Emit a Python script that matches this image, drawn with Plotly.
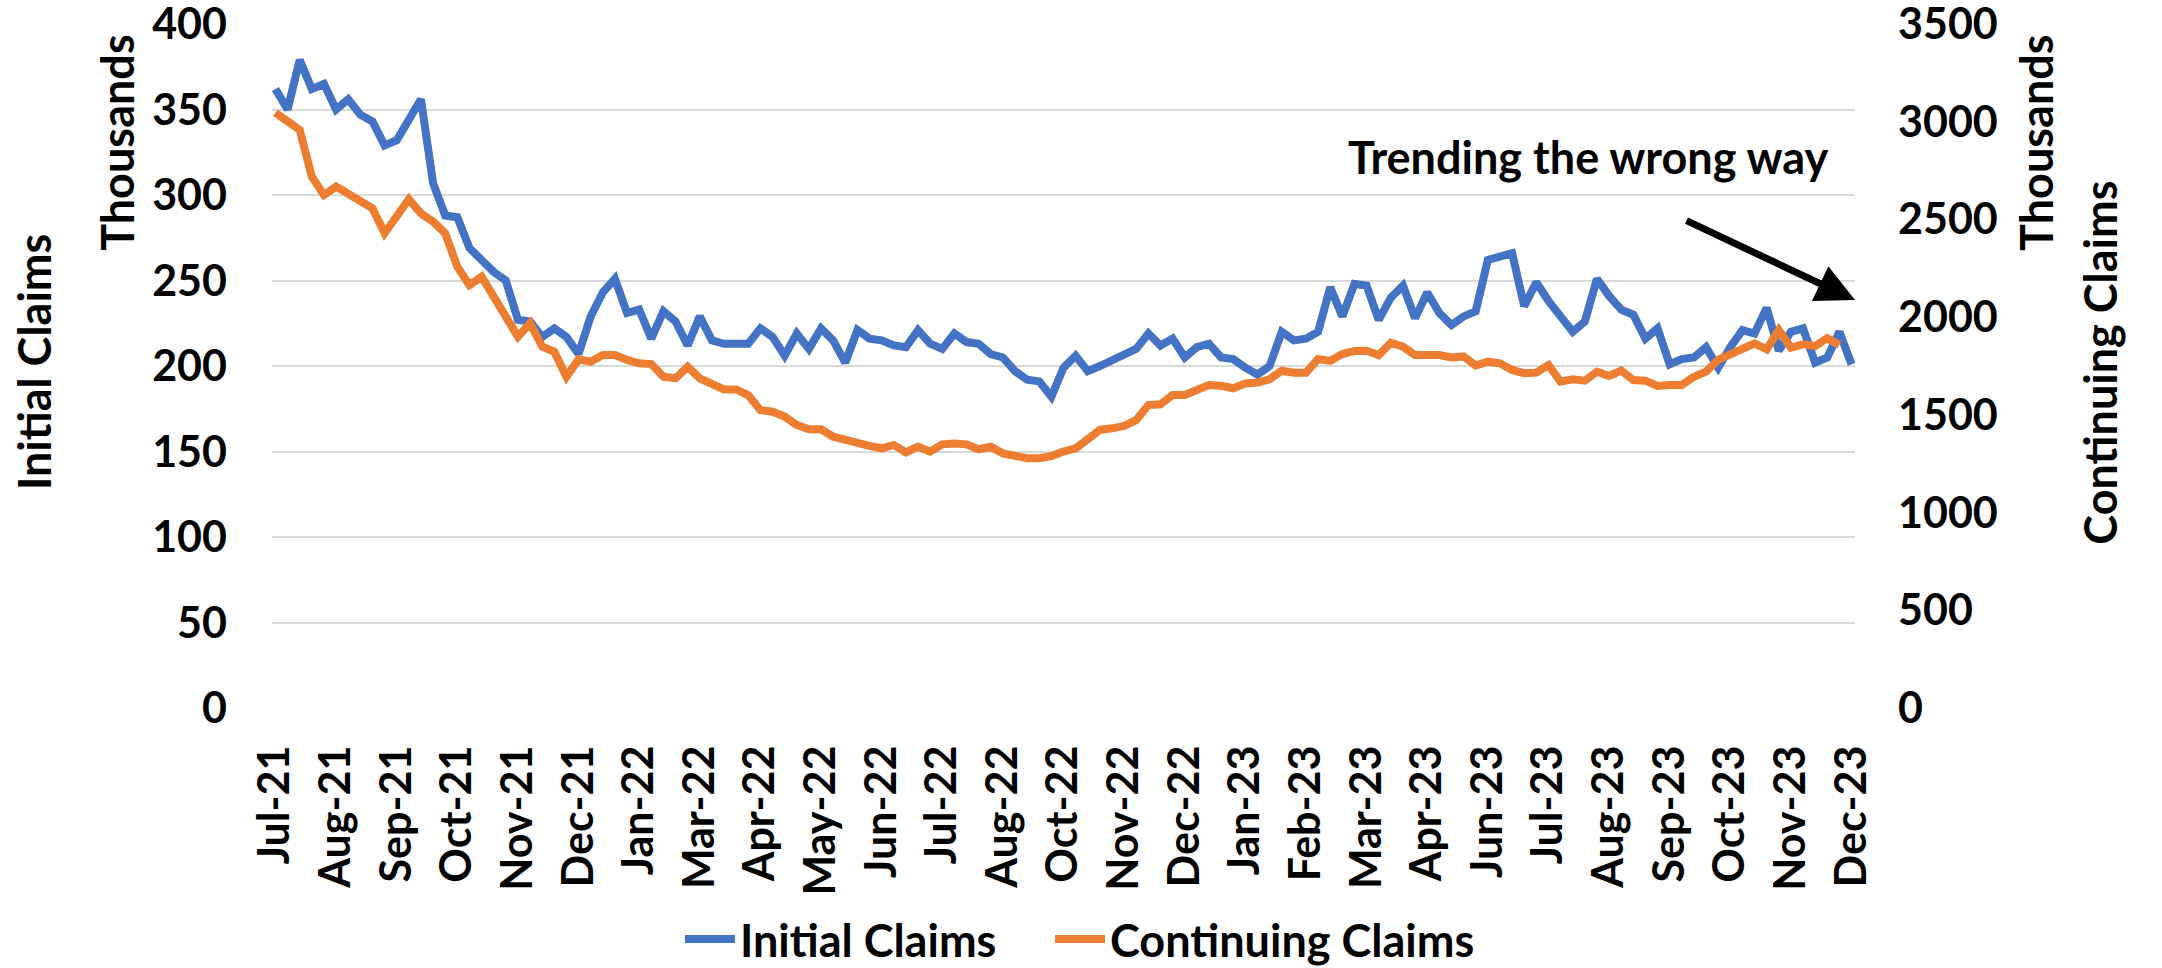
import pandas as pd
import plotly.graph_objects as go

# Weekly data, Jul 3 2021 .. Dec 30 2023 (thousands)
weeks = pd.date_range("2021-07-03", periods=131, freq="7D")

initial_claims = [
    362, 350, 379, 362, 365, 350, 356, 347, 343, 329,
    332, 344, 356, 307, 288, 287, 269, 262, 255, 250,
    227, 226, 217, 222, 217, 207, 229, 243, 251, 231,
    233, 216, 232, 226, 212, 229, 215, 213, 213, 213,
    222, 217, 206, 219, 210, 222, 215, 202, 221, 216,
    215, 212, 211, 221, 213, 210, 219, 214, 213, 207,
    205, 197, 192, 191, 182, 199, 206, 197, 200, 203,
    206, 210, 219, 212, 216, 205, 211, 213, 205, 204,
    199, 195, 200, 220, 215, 216, 220, 246, 229, 248,
    247, 227, 240, 247, 228, 243, 231, 224, 229, 232,
    262, 264, 266, 235, 249, 238, 229, 220, 226, 251,
    241, 233, 230, 216, 222, 201, 204, 205, 211, 199,
    211, 221, 219, 234, 209, 220, 222, 202, 205, 220,
    201,
]

continuing_claims = [
    3046, 3000, 2958, 2719, 2625, 2668, 2634, 2591, 2557, 2429,
    2514, 2603, 2531, 2489, 2429, 2258, 2164, 2207, 2105, 2011,
    1900, 1969, 1849, 1823, 1695, 1784, 1772, 1806, 1806, 1781,
    1764, 1760, 1695, 1687, 1746, 1687, 1661, 1630, 1630, 1600,
    1525, 1516, 1491, 1448, 1426, 1426, 1388, 1371, 1349, 1341,
    1329, 1346, 1308, 1337, 1312, 1349, 1354, 1349, 1324, 1337,
    1303, 1291, 1278, 1278, 1289, 1312, 1329, 1375, 1423, 1431,
    1443, 1474, 1550, 1554, 1602, 1602, 1631, 1653, 1649, 1636,
    1661, 1665, 1682, 1726, 1716, 1716, 1786, 1776, 1811, 1827,
    1828, 1806, 1869, 1849, 1806, 1811, 1806, 1794, 1799, 1752,
    1772, 1764, 1730, 1713, 1716, 1755, 1670, 1682, 1675, 1721,
    1699, 1726, 1678, 1675, 1648, 1653, 1653, 1695, 1721, 1781,
    1811, 1832, 1866, 1835, 1934, 1844, 1861, 1852, 1892, 1857,
    None,
]

tick_labels = [
    "Jul-21", "Aug-21", "Sep-21", "Oct-21", "Nov-21", "Dec-21", "Jan-22",
    "Mar-22", "Apr-22", "May-22", "Jun-22", "Jul-22", "Aug-22", "Oct-22",
    "Nov-22", "Dec-22", "Jan-23", "Feb-23", "Mar-23", "Apr-23", "Jun-23",
    "Jul-23", "Aug-23", "Sep-23", "Oct-23", "Nov-23", "Dec-23",
]
tick_vals = list(weeks[::5])

left_ticks = [0, 50, 100, 150, 200, 250, 300, 350, 400]
right_ticks = [0, 500, 1000, 1500, 2000, 2500, 3000, 3500]

BLUE = "#4472C4"
ORANGE = "#ED7D31"
FAMILY = "Lato, Carlito, Calibri, sans-serif"
TICKFONT = dict(family=FAMILY, size=43, color="black", weight="bold")
TEXTFONT = dict(family=FAMILY, size=45, color="black", weight="bold")

fig = go.Figure()
fig.add_trace(go.Scatter(x=weeks, y=initial_claims, name="Initial Claims",
                         mode="lines", line=dict(color=BLUE, width=8), legend="legend"))
fig.add_trace(go.Scatter(x=weeks, y=continuing_claims, name="Continuing Claims",
                         mode="lines", line=dict(color=ORANGE, width=8), yaxis="y2",
                         legend="legend2"))

LEG = dict(orientation="h", y=-0.338, yanchor="middle", xanchor="left",
           font=TEXTFONT, itemwidth=50, tracegroupgap=0, bgcolor="rgba(0,0,0,0)")

fig.update_layout(
    width=2162, height=968, autosize=False,
    margin=dict(l=272, r=307, t=24, b=260, autoexpand=False),
    paper_bgcolor="white", plot_bgcolor="white",
    font=TICKFONT,
    showlegend=True,
    legend=dict(x=0.2577, **LEG),
    legend2=dict(x=0.4915, **LEG),
    xaxis=dict(
        type="date",
        range=[weeks[0] - pd.Timedelta(days=2), weeks[-1] + pd.Timedelta(days=2)],
        tickvals=tick_vals, ticktext=tick_labels, tickangle=-90,
        showgrid=False, zeroline=False, showline=False, ticks="",
        tickfont=TICKFONT, ticklabelstandoff=28,
    ),
    yaxis=dict(
        range=[0, 400], tickmode="array", tickvals=left_ticks,
        showgrid=True, gridcolor="#D9D9D9", gridwidth=2,
        zeroline=False, showline=False, ticks="",
        tickfont=TICKFONT, ticklabelstandoff=44, ticklabeloverflow="allow",
    ),
    yaxis2=dict(
        range=[0, 3500], tickmode="array", tickvals=right_ticks,
        overlaying="y", side="right",
        showgrid=False, zeroline=False, showline=False, ticks="",
        tickfont=TICKFONT, ticklabelstandoff=42, ticklabeloverflow="allow",
    ),
)

annotations = [
    dict(text="Thousands", x=-0.098, y=0.8275, textangle=-90),
    dict(text="Initial Claims", x=-0.1503, y=0.5058, textangle=-90),
    dict(text="Thousands", x=1.1143, y=0.8275, textangle=-90),
    dict(text="Continuing Claims", x=1.1548, y=0.505, textangle=-90),
    dict(text="Trending the wrong way", x=0.8313, y=0.8056, textangle=0),
]
for a in annotations:
    fig.add_annotation(xref="paper", yref="paper", xanchor="center", yanchor="middle",
                       showarrow=False, font=TEXTFONT, **a)

# arrow
fig.add_annotation(xref="paper", yref="paper", x=1.0, y=0.5965, ax=-170, ay=-80,
                   axref="pixel", ayref="pixel", text="", showarrow=True,
                   arrowhead=2, arrowsize=1.1, arrowwidth=7, arrowcolor="black")

fig.write_html("out.html",
               config={"displayModeBar": False},
               post_script="document.body.style.margin='0px';document.body.style.padding='0px';")
